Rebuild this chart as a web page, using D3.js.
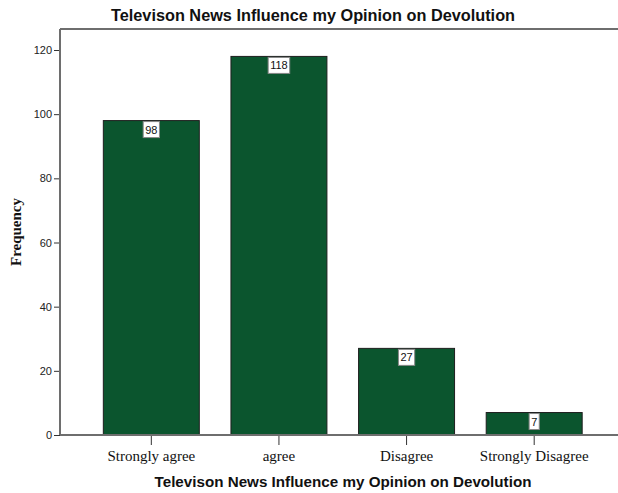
<!DOCTYPE html>
<html>
<head>
<meta charset="utf-8">
<script src="https://cdn.jsdelivr.net/npm/d3@7"></script>
<style>
  html, body { margin: 0; padding: 0; background: #fff; }
  svg { display: block; }
</style>
</head>
<body>
<svg id="chart" width="618" height="493"></svg>
<script>
// Survey responses: television news influence on opinion about devolution
const categories = ["Strongly agree", "agree", "Disagree", "Strongly Disagree"];
const frequencies = [98, 118, 27, 7];
const yTicks = [0, 20, 40, 60, 80, 100, 120];

const title = "Televison News Influence my Opinion on Devolution";
const xTitle = "Televison News Influence my Opinion on Devolution";
const yTitle = "Frequency";

const svg = d3.select("#chart");
const frame = { left: 60, top: 29, right: 618, bottom: 435 };

const x = d3.scaleBand()
  .domain(categories)
  .range([87.5, 598])
  .paddingInner(0.248)
  .paddingOuter(0.124);

const y = d3.scaleLinear()
  .domain([0, 120])
  .range([435, 50]);

const axisColor = "#6e6e6e";

// Top frame line
svg.append("line")
  .attr("x1", frame.left).attr("x2", frame.right)
  .attr("y1", frame.top).attr("y2", frame.top)
  .attr("stroke", axisColor).attr("stroke-width", 2);

// Bars
svg.append("g").selectAll("rect")
  .data(frequencies)
  .join("rect")
  .attr("x", (d, i) => x(categories[i]))
  .attr("y", d => y(d))
  .attr("width", x.bandwidth())
  .attr("height", d => y(0) - y(d))
  .attr("fill", "#0b552e")
  .attr("stroke", "#1e1e1e")
  .attr("stroke-width", 1);

// Y axis
const yAxis = svg.append("g")
  .attr("transform", `translate(${frame.left},0)`)
  .call(d3.axisLeft(y).tickValues(yTicks).tickSize(6).tickSizeOuter(0).tickPadding(2));
yAxis.select(".domain").remove();
yAxis.append("line")
  .attr("x1", 0).attr("x2", 0)
  .attr("y1", frame.top).attr("y2", frame.bottom)
  .attr("stroke", axisColor).attr("stroke-width", 2);
yAxis.selectAll(".tick line").attr("stroke", "#333").attr("stroke-width", 1);
yAxis.selectAll(".tick text")
  .attr("font-family", "Arial, 'Liberation Sans', sans-serif")
  .attr("font-size", 11)
  .attr("fill", "#222");

// X axis
const xAxis = svg.append("g")
  .attr("transform", `translate(0,${frame.bottom})`)
  .call(d3.axisBottom(x).tickSize(10).tickSizeOuter(0).tickPadding(5));
xAxis.select(".domain").remove();
xAxis.append("line")
  .attr("x1", frame.left).attr("x2", frame.right)
  .attr("y1", 0).attr("y2", 0)
  .attr("stroke", axisColor).attr("stroke-width", 2);
xAxis.selectAll(".tick line").attr("stroke", "#333").attr("stroke-width", 1);
xAxis.selectAll(".tick text")
  .attr("font-family", "'Liberation Serif', 'Times New Roman', serif")
  .attr("font-size", 15)
  .attr("fill", "#111");

// Value labels in boxes at top of each bar
const labels = svg.append("g").selectAll("g")
  .data(frequencies)
  .join("g")
  .attr("transform", (d, i) => `translate(${x(categories[i]) + x.bandwidth() / 2},${y(d)})`);
labels.each(function(d) {
  const g = d3.select(this);
  const t = g.append("text")
    .attr("text-anchor", "middle")
    .attr("y", 13)
    .attr("font-family", "Arial, 'Liberation Sans', sans-serif")
    .attr("font-size", 11)
    .attr("fill", "#111")
    .text(d);
  const w = t.node().getComputedTextLength() + 4;
  g.insert("rect", "text")
    .attr("x", -w / 2).attr("y", 1)
    .attr("width", w).attr("height", 16)
    .attr("fill", "#fff")
    .attr("stroke", "#888")
    .attr("stroke-width", 1);
});

// Titles
svg.append("text")
  .attr("x", 313).attr("y", 21)
  .attr("text-anchor", "middle")
  .attr("font-family", "Arial, 'Liberation Sans', sans-serif")
  .attr("font-weight", "bold")
  .attr("font-size", 16.3)
  .attr("fill", "#111")
  .text(title);

svg.append("text")
  .attr("x", 343).attr("y", 487)
  .attr("text-anchor", "middle")
  .attr("font-family", "Arial, 'Liberation Sans', sans-serif")
  .attr("font-weight", "bold")
  .attr("font-size", 15.2)
  .attr("fill", "#111")
  .text(xTitle);

svg.append("text")
  .attr("transform", "translate(21,232) rotate(-90)")
  .attr("text-anchor", "middle")
  .attr("font-family", "'Liberation Serif', 'Times New Roman', serif")
  .attr("font-weight", "bold")
  .attr("font-size", 15)
  .attr("fill", "#111")
  .text(yTitle);
</script>
</body>
</html>
